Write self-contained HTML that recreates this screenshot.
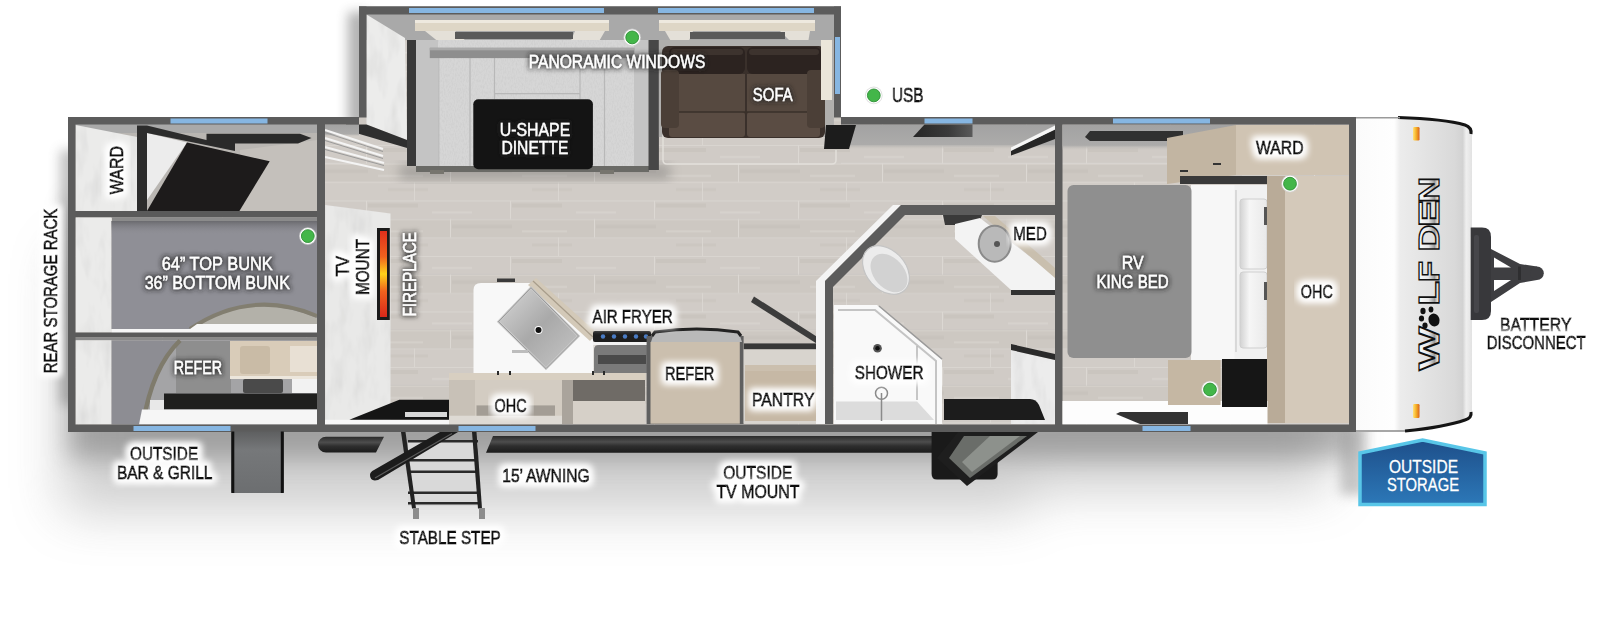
<!DOCTYPE html>
<html><head><meta charset="utf-8">
<style>
html,body{margin:0;padding:0;background:#fff;}
body{width:1600px;height:618px;overflow:hidden;position:relative;font-family:"Liberation Sans",sans-serif;}
svg{position:absolute;left:0;top:0;}
.t{font-family:"Liberation Sans",sans-serif;font-size:18.5px;}
.b{fill:#0c0c0c;stroke:#0c0c0c;stroke-width:0.95px;}
.w{fill:#fff;stroke:#fff;stroke-width:0.3px;}
</style></head><body>
<svg width="1600" height="618" viewBox="0 0 1600 618">
<defs>
  <filter id="shadow" x="-10%" y="-30%" width="120%" height="180%"><feGaussianBlur stdDeviation="12"/></filter>
  <filter id="shadowW" x="-10%" y="-50%" width="120%" height="200%"><feGaussianBlur stdDeviation="26"/></filter>
  <filter id="shadow2" x="-100%" y="-30%" width="300%" height="160%"><feGaussianBlur stdDeviation="6"/></filter>
  <pattern id="planks" width="144" height="55.5" patternUnits="userSpaceOnUse" x="0" y="200.5">
    <rect x="0" y="0" width="144" height="18.5" fill="#d0cbc6"/>
    <rect x="0" y="18.5" width="144" height="18.5" fill="#cdc8c2"/>
    <rect x="0" y="37" width="144" height="18.5" fill="#d1ccc7"/>
    <rect x="80" y="3" width="50" height="4" fill="#c6c1bb" opacity="0.6"/>
    <rect x="20" y="24" width="60" height="4" fill="#c4bfb9" opacity="0.55"/>
    <rect x="100" y="43" width="40" height="3" fill="#c8c3bd" opacity="0.6"/>
    <rect x="0" y="11" width="40" height="2" fill="#d9d5d0" opacity="0.7"/>
    <rect x="90" y="30" width="45" height="2" fill="#d8d4cf" opacity="0.7"/>
    <rect y="0" width="144" height="1" fill="#d9d5d0"/>
    <rect y="18.5" width="144" height="1" fill="#d9d5d0"/>
    <rect y="37" width="144" height="1" fill="#d7d3ce"/>
    <rect x="78" y="0" width="1" height="18.5" fill="#dcd8d3"/>
    <rect x="18" y="18.5" width="1" height="18.5" fill="#dcd8d3"/>
    <rect x="126" y="37" width="1" height="18.5" fill="#dad6d1"/>
  </pattern>
  <filter id="gw" x="-20%" y="-50%" width="140%" height="200%">
    <feMorphology in="SourceAlpha" operator="dilate" radius="2.5" result="d"/>
    <feGaussianBlur in="d" stdDeviation="3.5" result="bl"/>
    <feFlood flood-color="#fff" flood-opacity="1"/>
    <feComposite in2="bl" operator="in" result="g"/>
    <feMerge><feMergeNode in="g"/><feMergeNode in="g"/><feMergeNode in="SourceGraphic"/></feMerge>
  </filter>
  <filter id="gd" x="-20%" y="-50%" width="140%" height="200%">
    <feMorphology in="SourceAlpha" operator="dilate" radius="1" result="d"/>
    <feGaussianBlur in="d" stdDeviation="2.5" result="bl"/>
    <feFlood flood-color="#222" flood-opacity="0.8"/>
    <feComposite in2="bl" operator="in" result="g"/>
    <feMerge><feMergeNode in="g"/><feMergeNode in="SourceGraphic"/></feMerge>
  </filter>
  <filter id="marble" x="0" y="0" width="100%" height="100%">
    <feTurbulence type="fractalNoise" baseFrequency="0.08 0.025" numOctaves="3" seed="7" result="n"/>
    <feColorMatrix in="n" type="matrix" values="0 0 0 0 0.55  0 0 0 0 0.55  0 0 0 0 0.55  0 0 0 -2.2 1.25" result="c"/>
    <feComposite in="c" in2="SourceAlpha" operator="in" result="m"/>
    <feComponentTransfer in="m" result="m2"><feFuncA type="linear" slope="0.35"/></feComponentTransfer>
    <feMerge><feMergeNode in="SourceGraphic"/><feMergeNode in="m2"/></feMerge>
  </filter>
  <filter id="fabric" x="0" y="0" width="100%" height="100%">
    <feTurbulence type="fractalNoise" baseFrequency="0.9 0.35" numOctaves="2" seed="3" result="n"/>
    <feColorMatrix in="n" type="matrix" values="0 0 0 0 0.45  0 0 0 0 0.45  0 0 0 0 0.45  0 0 0 -1.6 1.0" result="c"/>
    <feComposite in="c" in2="SourceAlpha" operator="in" result="m"/>
    <feComponentTransfer in="m" result="m2"><feFuncA type="linear" slope="0.3"/></feComponentTransfer>
    <feMerge><feMergeNode in="SourceGraphic"/><feMergeNode in="m2"/></feMerge>
  </filter>
  <linearGradient id="capg" x1="1356" x2="1472" y1="0" y2="0" gradientUnits="userSpaceOnUse">
    <stop offset="0" stop-color="#fbfbfb"/><stop offset="0.33" stop-color="#fefefe"/><stop offset="0.38" stop-color="#ececec"/>
    <stop offset="0.85" stop-color="#d9d9d9"/><stop offset="0.92" stop-color="#d2d2d2"/><stop offset="0.95" stop-color="#efefef"/><stop offset="1" stop-color="#e2e2e2"/>
  </linearGradient>
  <linearGradient id="fire" x1="0" x2="0" y1="0" y2="1">
    <stop offset="0" stop-color="#e0301c"/><stop offset="0.3" stop-color="#f0621e"/><stop offset="0.5" stop-color="#ffd21a"/>
    <stop offset="0.7" stop-color="#f0621e"/><stop offset="1" stop-color="#d8281a"/>
  </linearGradient>
  <linearGradient id="sink" x1="0" x2="1" y1="0" y2="1">
    <stop offset="0" stop-color="#d9d9d9"/><stop offset="0.5" stop-color="#a9a9a9"/><stop offset="1" stop-color="#c7c7c7"/>
  </linearGradient>
  <linearGradient id="amber" x1="0" x2="1" y1="0" y2="0">
    <stop offset="0" stop-color="#ffe27a"/><stop offset="0.45" stop-color="#f7b52a"/><stop offset="1" stop-color="#d9621a"/>
  </linearGradient>
  <linearGradient id="grill" x1="0" x2="0" y1="0" y2="1">
    <stop offset="0" stop-color="#5e5f60"/><stop offset="0.3" stop-color="#76787a"/><stop offset="1" stop-color="#6c6e70"/>
  </linearGradient>
  <linearGradient id="awn" x1="0" x2="0" y1="0" y2="1">
    <stop offset="0" stop-color="#2a2a2a"/><stop offset="0.35" stop-color="#4d4d4d"/><stop offset="0.6" stop-color="#2e2e2e"/><stop offset="1" stop-color="#1b1b1b"/>
  </linearGradient>
  <linearGradient id="chrome" x1="0" x2="0" y1="-20" y2="0" gradientUnits="userSpaceOnUse">
    <stop offset="0" stop-color="#ffffff"/><stop offset="0.5" stop-color="#e6e6e6"/><stop offset="0.8" stop-color="#9a9a9a"/><stop offset="1" stop-color="#f4f4f4"/>
  </linearGradient>
  <linearGradient id="wallface" x1="0" x2="0" y1="0" y2="1">
    <stop offset="0" stop-color="#a2a2a2"/><stop offset="0.8" stop-color="#acabaa"/><stop offset="1" stop-color="#ccc7c1" stop-opacity="0"/>
  </linearGradient>
  <linearGradient id="mtop" x1="0" x2="0" y1="0" y2="1">
    <stop offset="0" stop-color="#6a6a6e"/><stop offset="1" stop-color="#8f8f96" stop-opacity="0"/>
  </linearGradient>
  <linearGradient id="shelfg" x1="0" x2="1" y1="0" y2="0">
    <stop offset="0" stop-color="#262626"/><stop offset="0.6" stop-color="#3a3a3a"/><stop offset="1" stop-color="#5a5a5a"/>
  </linearGradient>
  <linearGradient id="pillow" x1="0" x2="1" y1="0" y2="0">
    <stop offset="0" stop-color="#d2d2d2"/><stop offset="0.35" stop-color="#f6f6f6"/><stop offset="1" stop-color="#e9e9e9"/>
  </linearGradient>
  <linearGradient id="badge" x1="0" x2="0" y1="0" y2="1">
    <stop offset="0" stop-color="#1e4f8a"/><stop offset="1" stop-color="#2c78b8"/>
  </linearGradient>
</defs>

<!-- shadow -->
<g filter="url(#shadowW)" opacity="0.35">
  <rect x="62" y="250" width="968" height="262" fill="#777"/>
  <rect x="1000" y="250" width="330" height="240" fill="#777"/>
</g>
<g filter="url(#shadow)" opacity="0.38">
  <rect x="68" y="200" width="1287" height="258" fill="#555"/>
</g>
<g filter="url(#shadow2)" opacity="0.45">
  <rect x="60" y="150" width="20" height="255" fill="#777"/>
  <rect x="348" y="12" width="20" height="115" fill="#555"/>
  <rect x="1340" y="425" width="25" height="70" fill="#888"/>
</g>
<!-- ============ MAIN BODY ============ -->
<!-- floor -->
<rect x="68" y="117" width="1288" height="315" fill="url(#planks)"/>
<!-- slide-out floor -->
<rect x="359" y="6" width="482" height="170" fill="url(#planks)"/>
<rect x="359" y="6" width="482" height="34" fill="#a9a9a9"/>

<rect x="841" y="124.5" width="214" height="25" fill="url(#wallface)"/>
<!-- ===== BUNK ROOM ===== -->
<g id="bunk">
  <!-- top ward section -->
  <rect x="75" y="124" width="242" height="88" fill="#b9b6b2"/>
  <rect x="75" y="124" width="242" height="9" fill="#a9a9a9"/>
  <polygon points="75.5,125 137,137 137,211 75.5,211" fill="#ebebea" filter="url(#marble)"/>
  <polygon points="147,133 187,142.6 147,200" fill="#ececec"/>
  <polygon points="240,150 317,140 317,211 240,211" fill="#c4c0bb"/>
  <polygon points="187,142.6 269.7,161.3 239.4,211 147,211" fill="#1d1b1b"/>
  <polygon points="137,125.5 147,125.5 235,147 235,151 147,133 147,211 137,211" fill="#2c2c2c"/>
  <polygon points="206.5,133.7 300,133.7 311.5,138 298,143.5 235,143.5 235,150 206.5,143.5" fill="#2a2a2a"/>
  <!-- shelf 1 -->
  <rect x="75" y="211" width="242" height="6.5" fill="#5a5a5a"/>
  <rect x="112" y="217.5" width="205" height="4" fill="#8b8b8b"/>
  <!-- bunk section -->
  <rect x="75.5" y="217.5" width="36" height="115" fill="#ebebea" filter="url(#marble)"/>
  <rect x="111.5" y="221" width="205.5" height="108" fill="#8f8f96"/>
  <rect x="111.5" y="221" width="205.5" height="14" fill="url(#mtop)"/>
  <path d="M190,329 Q251,290 317,318 L317,329 Z" fill="#b3b1a9"/>
  <path d="M190,329 Q251,288 317,316" fill="none" stroke="#827e70" stroke-width="4"/>
  <polygon points="111.5,329 190,329 197,324 317,324 317,333 111.5,333" fill="#f6f6f6"/>
  <!-- shelf 2 -->
  <rect x="75" y="332.5" width="242" height="5" fill="#5a5a5a"/>
  <rect x="75" y="337.5" width="242" height="3" fill="#8a8a8a"/>
  <!-- lower section -->
  <rect x="75.5" y="340.3" width="36" height="84" fill="#ebebea" filter="url(#marble)"/>
  <rect x="111.5" y="340.5" width="205.5" height="84" fill="#8d8d93"/>
  <path d="M142.5,424 C150,380 165,355 180,340.5 L317,340.5 L317,424 Z" fill="#a4a4a6"/>
  <rect x="176" y="341" width="55" height="52" fill="#8e8e8e"/>
  <rect x="230" y="341" width="87" height="38" fill="#d9ccb9"/>
  <rect x="240" y="346" width="30" height="28" rx="3" fill="#c9bba6"/>
  <rect x="290" y="346" width="27" height="26" fill="#e8e0d4"/>
  <rect x="230" y="376" width="87" height="3" fill="#ece6dc"/>
  <rect x="243" y="379" width="40" height="14" rx="2" fill="#4a4a4a"/>
  <rect x="292" y="379" width="25" height="14" fill="#f2f2f2"/>
  <path d="M143,424 C150,380 165,355 180,340.5" fill="none" stroke="#7f7b6c" stroke-width="4.5"/>
  <rect x="164" y="393.5" width="153" height="16" fill="#1f1f1e"/>
  <polygon points="142,409.5 317,409.5 317,424.5 139,424.5" fill="#f6f6f6"/>
  <rect x="150" y="400" width="14" height="10" fill="#e8e8e8"/>
</g>
<!-- ===== SLIDE-OUT ===== -->
<g filter="url(#shadow2)" opacity="0.35"><rect x="400" y="165" width="270" height="14" fill="#555"/></g>
<g id="slide">
  <!-- left white panel -->
  <polygon points="366.5,14.5 405,38 407,140 366.5,124.5" fill="#ececeb" filter="url(#marble)"/>
  <polygon points="346,124.5 366.5,124.5 407,140 407,148 346,130" fill="#2f2f2f"/>
  <!-- valances -->
  <rect x="415" y="20" width="194" height="11" fill="#ded6c6"/>
  <rect x="415" y="20" width="194" height="3" fill="#eee9df"/>
  <rect x="659" y="20" width="156" height="11" fill="#ded6c6"/>
  <rect x="659" y="20" width="156" height="3" fill="#eee9df"/>
  <!-- shades under valance -->
  <polygon points="425,31 455,31 468,43 440,43" fill="#e4e0d8"/>
  <polygon points="575,31 605,31 598,43 570,43" fill="#e4e0d8"/>
  <rect x="455" y="32" width="118" height="7" fill="#5a5a5a"/>
  <polygon points="665,31 693,31 688,43 672,43" fill="#e4e0d8"/>
  <polygon points="780,31 810,31 808,43 792,43" fill="#e4e0d8"/>
  <rect x="690" y="32" width="95" height="7" fill="#5a5a5a"/>
  <!-- dinette -->
  <rect x="407" y="40" width="9" height="126" fill="#3a3a3a"/>
  <rect x="416" y="40" width="232.5" height="127" fill="#d6d6d6" filter="url(#fabric)"/>
  <g fill="#c4c4c4">
    <rect x="416" y="40" width="22" height="127"/>
    <rect x="634" y="40" width="14.5" height="127"/>
  </g>
  <g stroke="#b8b8b8" stroke-width="1.2">
    <line x1="438.8" y1="58" x2="438.8" y2="167"/>
    <line x1="470" y1="58" x2="470" y2="167"/>
    <line x1="494.5" y1="58" x2="494.5" y2="99"/>
    <line x1="580" y1="58" x2="580" y2="99"/>
    <line x1="604.5" y1="58" x2="604.5" y2="167"/>
    <line x1="494.5" y1="93.6" x2="580" y2="93.6"/>
  </g>
  <rect x="429.8" y="47.8" width="204.5" height="10.3" fill="#8e8e8e"/>
  <rect x="429.8" y="47.8" width="204.5" height="2.5" fill="#a9a9a9"/>
  <rect x="416" y="166" width="233" height="6" fill="#6a6a66"/>
  <rect x="430" y="170" width="14" height="4" fill="#77756e"/>
  <rect x="600" y="170" width="14" height="4" fill="#77756e"/>
  <rect x="473.3" y="99.3" width="119.6" height="70" rx="5" fill="#141414"/>
  <!-- divider -->
  <rect x="648.5" y="40" width="10.4" height="130" fill="#474747"/>
  <!-- sofa -->
  <rect x="658.9" y="40" width="175" height="97" fill="#b0afad"/>
  <path d="M663,130 L663,160 Q663,164 667,164 L832,164 Q836,164 836,160 L836,150" fill="none" stroke="#e2dfda" stroke-width="1.5"/>
  <rect x="662" y="46" width="163" height="92" rx="6" fill="#3a302b"/>
  <rect x="669" y="47" width="76" height="27" rx="6" fill="#2c2320"/>
  <rect x="747" y="47" width="74" height="27" rx="6" fill="#2c2320"/>
  <rect x="671" y="49" width="72" height="6" rx="3" fill="#3d332e"/>
  <rect x="749" y="49" width="70" height="6" rx="3" fill="#3d332e"/>
  <rect x="679" y="74" width="66" height="38" fill="#564940"/>
  <rect x="747" y="74" width="60" height="38" fill="#564940"/>
  <rect x="669" y="112" width="76" height="25" rx="3" fill="#5a4c43"/>
  <rect x="747" y="112" width="73" height="25" rx="3" fill="#5a4c43"/>
  <line x1="679" y1="112" x2="807" y2="112" stroke="#3a302a" stroke-width="1.5"/>
  <rect x="661" y="70" width="18" height="58" rx="4" fill="#4b3f37"/>
  <rect x="807" y="70" width="18" height="58" rx="4" fill="#4b3f37"/>
  <!-- end table -->
  <rect x="821" y="40" width="11" height="60" fill="#ebe6da"/>
  <polygon points="826,125 856,125 849,149 824,149" fill="#1c1c1c"/>
</g>

<!-- ===== LIVING / KITCHEN ===== -->
<g id="living">
  <!-- vents -->
  <rect x="325" y="124.5" width="34" height="12" fill="url(#wallface)"/>
  <g stroke="#f4f4f4" stroke-width="2.2">
    <line x1="325" y1="130" x2="383" y2="149"/>
    <line x1="325" y1="138" x2="383" y2="156"/>
    <line x1="325" y1="147" x2="384" y2="163"/>
    <line x1="325" y1="157" x2="384" y2="170"/>
  </g>
  <g stroke="#9a9a9a" stroke-width="1">
    <line x1="325" y1="132.5" x2="383" y2="151.5"/>
    <line x1="325" y1="140.5" x2="383" y2="158.5"/>
    <line x1="325" y1="149.5" x2="384" y2="165.5"/>
  </g>
  <!-- TV / fireplace panel -->
  <polygon points="325.2,205 390.5,213.5 390.5,424 325.2,424" fill="#e9e9e8" filter="url(#marble)"/>
  <rect x="377" y="228" width="12.8" height="92" fill="#1a1a1a"/>
  <rect x="380" y="231" width="7" height="86" fill="url(#fire)"/>
  <!-- dark tray -->
  <rect x="325" y="419.8" width="124" height="5" fill="#f7f7f7"/>
  <polygon points="349.4,419.8 399.3,399.7 450,399.7 450,419.8" fill="#151515"/>
  <rect x="405" y="412" width="42" height="5" fill="#d8d8d8"/>
  <!-- kitchen counter -->
  <path d="M473.5,290 Q473.5,283 481,283 L531,283 L593.5,340 L593.5,376 L473.5,376 Z" fill="#f8f8f8"/>
  <rect x="497" y="278.5" width="18" height="3.5" fill="#3a3a3a"/>
  <polygon points="528,285 536,278 597,333 590,341" fill="#d3c9b8"/>
  <polyline points="533,281 593,337" stroke="#a89d8b" stroke-width="1.2" fill="none"/>
  <polygon points="531,287.7 578.5,336 546,368.6 498.5,321.7" fill="url(#sink)" stroke="#c9c9c9" stroke-width="2.5"/>
  <polygon points="531,287.7 578.5,336 546,368.6 498.5,321.7" fill="none" stroke="#8c8c8c" stroke-width="0.8"/>
  <circle cx="538.5" cy="330" r="4" fill="#fff"/><circle cx="538.5" cy="330" r="3" fill="#111"/>
  <rect x="512" y="350" width="16" height="3" fill="#bdbdbd"/>
  <!-- stove -->
  <rect x="593" y="331" width="58" height="11" rx="2" fill="#1e1e1e"/>
  <g fill="#4a7cc4"><circle cx="603" cy="336.5" r="2.2"/><circle cx="614" cy="336.5" r="2.2"/><circle cx="625" cy="336.5" r="2.2"/><circle cx="636" cy="336.5" r="2.2"/><circle cx="646" cy="336.5" r="2.2"/></g>
  <rect x="593" y="342" width="55" height="3" fill="#f2f2f2"/>
  <path d="M594,350 Q594,345 599,345 L648,345 L648,373 L594,373 Z" fill="#7a7a7a"/>
  <rect x="598" y="355" width="48" height="9" fill="#4a4a4a"/>
  <!-- OHC -->
  <rect x="449" y="373" width="196.6" height="7" fill="#d8cfc1"/>
  <rect x="449" y="380" width="26" height="44" fill="#c8c1b7"/>
  <rect x="475" y="380" width="87" height="44" fill="#d3ccc2"/>
  <rect x="562" y="380" width="11" height="44" fill="#aaa49c"/>
  <rect x="573" y="380" width="72" height="21" fill="#6f6b66"/>
  <rect x="573" y="401" width="72" height="23" fill="#d6d0c8"/>
  <rect x="449" y="415.7" width="113" height="8.5" fill="#dedad4"/>
  <rect x="476.5" y="405.4" width="78.5" height="10.3" fill="#a39d95"/>
  <g fill="#2a2a2a"><rect x="497" y="371" width="2" height="4"/><rect x="509" y="371" width="2" height="4"/><rect x="592" y="371" width="2" height="4"/><rect x="603" y="371" width="2" height="4"/></g>
  <!-- refer -->
  <rect x="646.6" y="336" width="97" height="88" fill="#5f5f5f"/>
  <path d="M651,342 L654,333 Q697,327 739,333 L742,342 Z" fill="#b9b9b9"/>
  <path d="M652,336 L655,332 Q697,326 738,332 L741,336" fill="none" stroke="#222" stroke-width="3"/>
  <rect x="650.5" y="342" width="89.3" height="81.7" fill="#cbbfae"/>
  <!-- pantry -->
  <rect x="743.7" y="343.4" width="79" height="80" fill="#d8d4ce"/>
  <rect x="743.7" y="343.4" width="79" height="5.8" fill="#383838"/>
  <polygon points="754,296.5 822,340 819,345 751,302" fill="#3c3c3c"/>
  <rect x="745" y="365" width="77" height="7" fill="#cbbfae"/>
  <rect x="745" y="371" width="77" height="50" fill="#c6b8a5"/>
</g>

<!-- ===== BATH ===== -->
<g id="bath">
  <polygon points="893,205 901,205 825,281 825,424 816,424 816,281" fill="#f4f4f4"/>
  <polygon points="901,205 1056,205 1056,215 905,215 833,287 833,424 825,424 825,281" fill="#5c5c5c"/>
  <!-- sink -->
  <polygon points="943,215 982,215 978,225 945,225" fill="#3a3a3a"/>
  <polygon points="955,224 980,218 1055,276 1055,290 1011,290 955,239" fill="#f3f3f3"/>
  <polygon points="983,216 995,216 1055,268 1055,278" fill="#c9bfae"/>
  <ellipse cx="994.7" cy="243.7" rx="16" ry="18" fill="#b9b9b9" stroke="#8a8a8a" stroke-width="2"/>
  <circle cx="997" cy="244" r="3" fill="#555"/>
  <polygon points="1011,290 1055,290 1055,295 1011,295" fill="#333"/>
  <!-- toilet -->
  <ellipse cx="886" cy="270" rx="27.5" ry="19.5" transform="rotate(48 886 270)" fill="#ececec" stroke="#c4c4c4" stroke-width="1.2"/>
  <ellipse cx="889" cy="273" rx="22" ry="15" transform="rotate(48 889 273)" fill="#d2d2d2"/>
  <!-- shower -->
  <polygon points="834,305 877,305 942,360 942,424 834,424" fill="#f9f9f9"/>
  <polyline points="838,310 875,310 936,361 936,424" fill="none" stroke="#c4c4c4" stroke-width="2"/>
  <polyline points="879,306 942,359" fill="none" stroke="#9a9a9a" stroke-width="1.5"/>
  <line x1="917" y1="346" x2="917" y2="400" stroke="#b5b5b5" stroke-width="1.5"/>
  <polygon points="836,401.5 917,401.5 934,420 836,420" fill="#dcdcdc"/>
  <circle cx="877.5" cy="348.2" r="4.3" fill="#555"/>
  <circle cx="877.5" cy="348.2" r="2.2" fill="#111"/>
  <circle cx="881.5" cy="393.3" r="6" fill="none" stroke="#8a8a8a" stroke-width="1.5"/>
  <line x1="881.5" y1="393" x2="881.5" y2="421" stroke="#8a8a8a" stroke-width="1.5"/>
  <!-- lower right -->
  <polygon points="1011,350 1055,360 1055,424 1011,424" fill="#ececec" filter="url(#marble)"/>
  <polygon points="1011,344 1055,354 1055,360 1011,350" fill="#2a2a2a"/>
  <path d="M944,399 L1030,399 Q1036,399 1039,405 L1045,420 L944,420 Z" fill="#1c1c1c"/>
  <!-- upper right corner pieces -->
  <polygon points="1011,150 1055,129.5 1055,139 1011,155.5" fill="#262626"/>
  <polygon points="1011,147.4 1055,125.5 1055,129.5 1011,151" fill="#f6f6f6"/>
</g>
<!-- living/bedroom wall -->
<rect x="1055" y="124" width="7.5" height="301" fill="#5c5c5c"/>
<polygon points="924.5,124.5 972.5,124.5 972.5,137 913,137" fill="url(#shelfg)"/>

<!-- ===== BEDROOM ===== -->
<g id="bed">
  <rect x="1062.5" y="124.5" width="287" height="26" fill="url(#wallface)"/>
  <polygon points="1085,137 1090,131 1183,131 1183,141 1090,141" fill="#303030"/>
  <!-- ward -->
  <polygon points="1167,138 1236,125 1236,175 1167,184" fill="#c2b5a2"/>
  <rect x="1236" y="125" width="113" height="50" fill="#d0c4b3"/>
  <rect x="1180" y="176" width="95" height="8" fill="#3a3a3a"/>
  <rect x="1180" y="170" width="8" height="2" fill="#333"/>
  <rect x="1213" y="163" width="8" height="2" fill="#333"/>
  <!-- bed -->
  <rect x="1191" y="185" width="45" height="175" fill="#f7f7f7"/>
  <rect x="1234.6" y="185" width="33" height="175" fill="#f1f1f1"/>
  <line x1="1236" y1="190" x2="1236" y2="352" stroke="#c9c9c9" stroke-width="1.2"/>
  <rect x="1240" y="199" width="27" height="70" rx="3" fill="url(#pillow)" stroke="#cfcfcf"/>
  <rect x="1240" y="272" width="27" height="76" rx="3" fill="url(#pillow)" stroke="#cfcfcf"/>
  <rect x="1067.5" y="185" width="124" height="173" rx="6" fill="#8f8f8f"/>
  <!-- OHC tall -->
  <rect x="1267" y="176" width="18" height="247" fill="#b9ab98"/>
  <rect x="1285" y="176" width="64" height="247" fill="#d4c9ba"/>
  <rect x="1264" y="207" width="3" height="18" fill="#555"/>
  <rect x="1264" y="282" width="3" height="18" fill="#555"/>
  <rect x="1264" y="363" width="3" height="18" fill="#555"/>
  <!-- nightstand + black -->
  <rect x="1062.5" y="401" width="205" height="23.5" fill="#fdfdfd"/>
  <rect x="1168" y="360" width="52.6" height="45" fill="#c5b7a3"/>
  <rect x="1222" y="359" width="45" height="48" fill="#161616"/>
  <polygon points="1116,414 1120,412 1188,412 1188,424 1140,424" fill="#333"/>
</g>

<!-- bunk/living divider wall -->
<rect x="317" y="124" width="8" height="301" fill="#5c5c5c"/>

<!-- outer walls -->
<g fill="#5c5c5c">
  <rect x="68" y="117" width="291" height="7.5"/>
  <rect x="841" y="117" width="515" height="7.5"/>
  <rect x="68" y="424.5" width="1288" height="7.5"/>
  <rect x="68" y="117" width="7.5" height="315"/>
  <rect x="1349" y="117" width="7" height="315"/>
  <!-- slide-out -->
  <rect x="359" y="6.5" width="482" height="8"/>
  <rect x="359" y="6.5" width="7.5" height="111"/>
  <rect x="834" y="6.5" width="7" height="111"/>
</g>
<!-- windows -->
<g fill="#86b6e2">
  <rect x="170.5" y="118.5" width="97" height="5"/>
  <rect x="409" y="8" width="195" height="5"/>
  <rect x="658" y="8" width="156" height="5"/>
  <rect x="835" y="37" width="5" height="57"/>
  <rect x="924.5" y="118.5" width="48" height="5"/>
  <rect x="1113" y="118.5" width="97" height="5"/>
  <rect x="133.5" y="426" width="97" height="5"/>
  <rect x="458.5" y="426" width="77" height="5"/>
  <rect x="1142.5" y="426" width="48" height="5"/>
</g>

<!-- front cap -->
<path d="M1356,117 L1398,117.5 Q1445,119 1465,125 Q1472,127.5 1472,134 L1472,412 Q1472,418 1465,420 Q1445,427 1410,431 L1356,432 Z" fill="url(#capg)"/>
<path d="M1398,117.5 Q1445,119 1465,125 Q1472,127.5 1471,134" fill="none" stroke="#151515" stroke-width="3"/>
<path d="M1471,412 Q1472,418 1465,420 Q1445,427 1405,431" fill="none" stroke="#151515" stroke-width="3"/>
<path d="M1356,117.8 L1400,117.8" stroke="#9a9a9a" stroke-width="1.5"/>
<path d="M1356,431 L1405,431" stroke="#8a8a8a" stroke-width="1.5"/>

<!-- amber lights -->
<rect x="1413" y="127" width="6.5" height="13.5" rx="1.2" fill="url(#amber)"/>
<rect x="1413" y="404" width="6.5" height="14" rx="1.2" fill="url(#amber)"/>
<!-- logo -->
<g font-family="Liberation Sans" font-weight="bold" font-size="28.6" fill="url(#chrome)" stroke="#111" stroke-width="1.3">
  <text transform="translate(1438.5,370.5) rotate(-90)" textLength="44" lengthAdjust="spacingAndGlyphs">W</text>
  <text transform="translate(1438.5,305.5) rotate(-90)" textLength="24.5" lengthAdjust="spacingAndGlyphs">L</text>
  <text transform="translate(1438.5,282) rotate(-90)" textLength="21" lengthAdjust="spacingAndGlyphs">F</text>
  <text transform="translate(1438.5,251.5) rotate(-90)" textLength="27" lengthAdjust="spacingAndGlyphs">D</text>
  <text transform="translate(1438.5,226.7) rotate(-90)" textLength="27" lengthAdjust="spacingAndGlyphs">E</text>
  <text transform="translate(1438.5,203) rotate(-90)" textLength="26" lengthAdjust="spacingAndGlyphs">N</text>
</g>
<g fill="#111">
  <ellipse cx="1434" cy="320" rx="5.5" ry="6.5" transform="rotate(-20 1434 320)"/>
  <ellipse cx="1423" cy="311" rx="2.6" ry="3.2"/>
  <ellipse cx="1421.5" cy="318.5" rx="2.6" ry="3"/>
  <ellipse cx="1425" cy="325.5" rx="2.6" ry="3"/>
  <ellipse cx="1431" cy="309.5" rx="2.4" ry="3"/>
</g>

<!-- hitch -->
<g>
  <polygon points="1491,249 1520,264 1537,266.5 1537,280 1520,283 1491,302" fill="#3e3e41"/>
  <polygon points="1494,257.5 1511,267.5 1494,267.5" fill="#fff"/>
  <polygon points="1494,280 1511,280 1494,291" fill="#fff"/>
  <circle cx="1537" cy="273.2" r="6.8" fill="#3e3e41"/>
  <rect x="1518" y="266.5" width="3" height="13.5" fill="#2e2e30"/>
  <path d="M1470.7,227.6 L1482,227.6 Q1491,227.6 1491,237 L1491,311 Q1491,320 1482,320 L1470.7,320 Z" fill="#38383b"/>
  <rect x="1474" y="235" width="5" height="78" rx="2" fill="#46464a"/>
</g>

<!-- ===== EXTERIOR ===== -->
<!-- bar & grill -->
<rect x="231.3" y="431.5" width="52.5" height="61.5" rx="2" fill="url(#grill)"/>
<rect x="231.3" y="431.5" width="3" height="61.5" fill="#111"/>
<rect x="280.8" y="431.5" width="3" height="61.5" fill="#111"/>
<!-- awning -->
<path d="M326,436.8 L384,436.8 L376,452.6 L326,452.6 A8,7.9 0 0 1 326,436.8 Z" fill="url(#awn)"/>
<path d="M493,436 L967,436 L967,452.8 L486,452.8 Z" fill="url(#awn)"/>
<!-- tv mount -->
<path d="M931.6,432 L997.6,432 L997.6,474 Q997.6,479.6 992,479.6 L937,479.6 Q931.6,479.6 931.6,474 Z" fill="#1a1a1a"/>
<polygon points="958,432 1038,432 967,486 937,458" fill="#1e1e1e"/>
<polygon points="964,436 1027,436 970,478 949,458" fill="#6a6d69"/>
<polygon points="990,436 1020,436 972,472 962,462" fill="#8d918c"/>
<!-- steps -->
<g>
  <rect x="408" y="440" width="70" height="66" fill="#d9d9d9"/>
  <g fill="#2a2a2a">
    <rect x="408" y="440" width="70" height="2.5"/>
    <rect x="408" y="459" width="70" height="2.5"/>
    <rect x="408" y="470.5" width="70" height="2.5"/>
    <rect x="408" y="491.5" width="70" height="2.5"/>
    <rect x="408" y="502" width="70" height="2.5"/>
  </g>
  <polygon points="401,432 405.5,432 416,508.5 412,508.5" fill="#222"/>
  <polygon points="472,432 476.5,432 482,508.5 478,508.5" fill="#222"/>
  <rect x="413" y="508" width="6" height="11" fill="#8c8c8c"/>
  <rect x="479" y="508" width="6" height="11" fill="#8c8c8c"/>
  <path d="M440,432 L458,432 L378,480 Q370,482 370,475 Q370,472 374,470 Z" fill="#1c1c1c"/>
  <path d="M452,433.5 L375,478" stroke="#5a5a5a" stroke-width="1.2" fill="none"/>
</g>

<!-- outside storage badge -->
<polygon points="1360,453 1422.6,440 1485,453 1485,504.5 1360,504.5" fill="url(#badge)" stroke="#58c6e8" stroke-width="3.5"/>

<!-- texts -->
<g class="t">
  <text x="528.8" y="67.8" textLength="176.6" lengthAdjust="spacingAndGlyphs" class="w" filter="url(#gd)">PANORAMIC WINDOWS</text>
  <text x="892" y="102" textLength="31.6" style="font-size:19.3px" lengthAdjust="spacingAndGlyphs" class="b" filter="url(#gw)">USB</text>
  <text x="499.7" y="135.8" textLength="70.6" lengthAdjust="spacingAndGlyphs" class="w" filter="url(#gd)">U-SHAPE</text>
  <text x="501.5" y="154.4" textLength="66.8" lengthAdjust="spacingAndGlyphs" class="w" filter="url(#gd)">DINETTE</text>
  <text x="752.8" y="100.8" textLength="39.9" lengthAdjust="spacingAndGlyphs" class="w" filter="url(#gd)">SOFA</text>
  <text x="161.7" y="270" textLength="111.1" lengthAdjust="spacingAndGlyphs" class="w" filter="url(#gd)">64” TOP BUNK</text>
  <text x="144.7" y="289.3" textLength="145.2" lengthAdjust="spacingAndGlyphs" class="w" filter="url(#gd)">36” BOTTOM BUNK</text>
  <text x="173.7" y="374.3" textLength="48.5" lengthAdjust="spacingAndGlyphs" class="w" filter="url(#gd)">REFER</text>
  <text x="592.6" y="322.7" textLength="80" lengthAdjust="spacingAndGlyphs" class="b" filter="url(#gw)">AIR FRYER</text>
  <text x="665" y="379.7" textLength="49.4" lengthAdjust="spacingAndGlyphs" class="b" filter="url(#gw)">REFER</text>
  <text x="752" y="405.6" textLength="62.4" lengthAdjust="spacingAndGlyphs" class="b" filter="url(#gw)">PANTRY</text>
  <text x="494.5" y="411.6" textLength="32.1" lengthAdjust="spacingAndGlyphs" class="b" filter="url(#gw)">OHC</text>
  <text x="854.7" y="379" textLength="68.8" lengthAdjust="spacingAndGlyphs" class="b" filter="url(#gw)">SHOWER</text>
  <text x="1013.3" y="239.6" textLength="33.5" lengthAdjust="spacingAndGlyphs" class="b" filter="url(#gw)">MED</text>
  <text x="1121.8" y="269.4" textLength="22" lengthAdjust="spacingAndGlyphs" class="w" filter="url(#gd)">RV</text>
  <text x="1096.5" y="287.7" textLength="72.3" lengthAdjust="spacingAndGlyphs" class="w" filter="url(#gd)">KING BED</text>
  <text x="1256" y="154" textLength="47.6" lengthAdjust="spacingAndGlyphs" class="b" filter="url(#gw)">WARD</text>
  <text x="1300.8" y="298.3" textLength="32" lengthAdjust="spacingAndGlyphs" class="b" filter="url(#gw)">OHC</text>
  <text x="1500" y="331.3" textLength="71.5" lengthAdjust="spacingAndGlyphs" class="b" filter="url(#gw)">BATTERY</text>
  <text x="1486.7" y="348.8" textLength="99" lengthAdjust="spacingAndGlyphs" class="b" filter="url(#gw)">DISCONNECT</text>
  <text x="130" y="459.75" textLength="68.1" lengthAdjust="spacingAndGlyphs" class="b" filter="url(#gw)">OUTSIDE</text>
  <text x="116.9" y="478.75" textLength="95.6" lengthAdjust="spacingAndGlyphs" class="b" filter="url(#gw)">BAR &amp; GRILL</text>
  <text x="502.2" y="481.5" textLength="87.5" lengthAdjust="spacingAndGlyphs" class="b" filter="url(#gw)">15’ AWNING</text>
  <text x="399.3" y="544.1" textLength="101.5" lengthAdjust="spacingAndGlyphs" class="b" filter="url(#gw)">STABLE STEP</text>
  <text x="723.3" y="478.9" textLength="69" lengthAdjust="spacingAndGlyphs" class="b" filter="url(#gw)">OUTSIDE</text>
  <text x="716.4" y="497.6" textLength="83.2" lengthAdjust="spacingAndGlyphs" class="b" filter="url(#gw)">TV MOUNT</text>
  <text x="1389" y="472.7" textLength="69" lengthAdjust="spacingAndGlyphs" class="w">OUTSIDE</text>
  <text x="1387" y="490.5" textLength="72" lengthAdjust="spacingAndGlyphs" class="w">STORAGE</text>
  <g filter="url(#gw)"><text transform="translate(122.8,194.2) rotate(-90)" textLength="48.2" lengthAdjust="spacingAndGlyphs" class="b">WARD</text></g>
  <g filter="url(#gw)"><text transform="translate(57.1,373.3) rotate(-90)" textLength="164.6" lengthAdjust="spacingAndGlyphs" class="b">REAR STORAGE RACK</text></g>
  <g filter="url(#gw)"><text transform="translate(349,276.5) rotate(-90)" textLength="20.5" lengthAdjust="spacingAndGlyphs" class="b">TV</text></g>
  <g filter="url(#gw)"><text transform="translate(368.7,295) rotate(-90)" textLength="56" lengthAdjust="spacingAndGlyphs" class="b">MOUNT</text></g>
  <g filter="url(#gd)"><text transform="translate(416.4,316.6) rotate(-90)" textLength="84.6" lengthAdjust="spacingAndGlyphs" class="w">FIREPLACE</text></g>
</g>
<circle cx="632.2" cy="37.4" r="8.8" fill="#d4d4d4" opacity="0.8"/><circle cx="632.2" cy="37.4" r="8" fill="#fff"/><circle cx="632.2" cy="37.4" r="6.4" fill="#43b649" stroke="#2f8f37" stroke-width="0.9"/>
<circle cx="873.8" cy="95.4" r="8.8" fill="#d4d4d4" opacity="0.8"/><circle cx="873.8" cy="95.4" r="8" fill="#fff"/><circle cx="873.8" cy="95.4" r="6.4" fill="#43b649" stroke="#2f8f37" stroke-width="0.9"/>
<circle cx="307.8" cy="236.1" r="8.8" fill="#d4d4d4" opacity="0.8"/><circle cx="307.8" cy="236.1" r="8" fill="#fff"/><circle cx="307.8" cy="236.1" r="6.4" fill="#43b649" stroke="#2f8f37" stroke-width="0.9"/>
<circle cx="1290" cy="183.7" r="8.8" fill="#d4d4d4" opacity="0.8"/><circle cx="1290" cy="183.7" r="8" fill="#fff"/><circle cx="1290" cy="183.7" r="6.4" fill="#43b649" stroke="#2f8f37" stroke-width="0.9"/>
<circle cx="1210" cy="389.5" r="8.8" fill="#d4d4d4" opacity="0.8"/><circle cx="1210" cy="389.5" r="8" fill="#fff"/><circle cx="1210" cy="389.5" r="6.4" fill="#43b649" stroke="#2f8f37" stroke-width="0.9"/>
</svg>
</body></html>
